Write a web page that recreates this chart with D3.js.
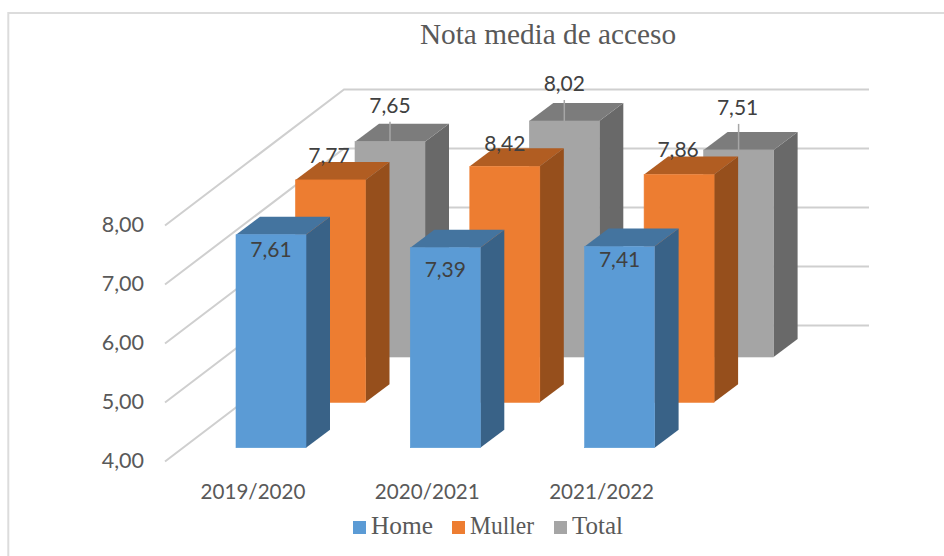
<!DOCTYPE html>
<html><head><meta charset="utf-8">
<style>html,body{margin:0;padding:0;background:#fff}svg{display:block}</style>
<script src="https://cdn.jsdelivr.net/npm/d3@7"></script></head>
<body><svg id="c" width="944" height="556"></svg>
<script>
const categories = ["2019/2020","2020/2021","2021/2022"];
const seriesNames = ["Home","Muller","Total"];
const home = [7.61,7.39,7.41];
const muller = [7.77,8.42,7.86];
const total = [7.65,8.02,7.51];
const yTicks = [4,5,6,7,8];
const title = "Nota media de acceso";
const fill = ["#5B9BD5","#ED7D31","#A5A5A5"];
const topFill = ["#44749F","#B15D22","#7C7C7C"];
const sideFill = ["#396287","#964F1C","#696969"];
// hand-placed data label offsets (from the top of the front face)
const labelDy = [[14,21,12],[-25,-24,-26],[-37,-39,-43]];
const labelDx = [[0,0,0],[-1.5,0,-1],[0,0,-1]];
const leaderTop = [-20,-21,-26];
const legendWidths = [62,64,51];

const values = [home,muller,total];
const fmt = v => d3.format(".2f")(v).replace(".",",");
const svg = d3.select("#c");
const sans = "Lato, Carlito, sans-serif", serif = "'Liberation Serif', serif";

// frame
svg.append("rect").attr("x",8.3).attr("y",13).attr("width",960).attr("height",600)
  .attr("fill","#fff").attr("stroke","#DCDCDC").attr("stroke-width",2);

const h = d3.scaleLinear().domain([4,8]).range([0,236]).clamp(true);
const x = d3.scalePoint().domain(categories).range([236,584.6]);
const sx = d3.scalePoint().domain(seriesNames).range([0,119]);
const sy = d3.scalePoint().domain(seriesNames).range([447.7,357]);
const barW = 70, dxD = 24, dyD = 18;

// walls gridlines
const wallFront = 165, wallBack = 344, wallDrop = 136, wallRight = 869, base = 325.5;
yTicks.forEach(t=>{
  const yb = base - h(t);
  svg.append("path").attr("fill","none").attr("stroke","#CFCFCF").attr("stroke-width",2)
    .attr("d",d3.line()([[wallFront,yb+wallDrop],[wallBack,yb],[wallRight,yb]]));
  svg.append("text").attr("x",144).attr("y",yb+wallDrop-1.5).attr("text-anchor","end")
    .attr("dominant-baseline","central").attr("font-family",sans).attr("font-size",21.5)
    .attr("fill","#595959").text(fmt(t));
});

// bars back to front
[2,1,0].forEach(s=>{
  categories.forEach((c,i)=>{
    const v = values[s][i], name = seriesNames[s];
    const l = x(c)+sx(name), r = l+barW, b = sy(name), t = b-h(v);
    const g = svg.append("g");
    g.append("path").attr("fill",sideFill[s])
      .attr("d",d3.line()([[r,t],[r+dxD,t-dyD],[r+dxD,b-dyD],[r,b]])+"Z");
    g.append("path").attr("fill",topFill[s])
      .attr("d",d3.line()([[l,t],[l+dxD,t-dyD],[r+dxD,t-dyD],[r,t]])+"Z");
    g.append("rect").attr("x",l).attr("y",t).attr("width",barW).attr("height",b-t).attr("fill",fill[s])
      .attr("stroke",fill[s]).attr("stroke-width",0.6);
  });
});

// data labels
[2,1,0].forEach(s=>{
  categories.forEach((c,i)=>{
    const v = values[s][i], name = seriesNames[s];
    const cx = x(c)+sx(name)+barW/2, t = sy(name)-h(v);
    if(s===2) svg.append("line").attr("x1",cx).attr("x2",cx).attr("y1",t).attr("y2",t+leaderTop[i])
      .attr("stroke","#A6A6A6").attr("stroke-width",1.5);
    svg.append("text").attr("x",cx+labelDx[s][i]).attr("y",t+labelDy[s][i]).attr("text-anchor","middle")
      .attr("dominant-baseline","central").attr("font-family",sans).attr("font-size",21)
      .attr("fill","#404040").text(fmt(v));
  });
});

// category labels
categories.forEach(c=>{
  svg.append("text").attr("x",x(c)+17).attr("y",491).attr("text-anchor","middle")
    .attr("dominant-baseline","central").attr("font-family",sans).attr("font-size",20.6)
    .attr("fill","#595959").text(c);
});

// title
svg.append("text").attr("x",548).attr("y",44).attr("text-anchor","middle")
  .attr("font-family",serif).attr("font-size",29.3).attr("fill","#595959").text(title);

// legend
const lx = d3.scaleOrdinal().domain(seriesNames).range([353,452,554]);
seriesNames.forEach((n,s)=>{
  svg.append("rect").attr("x",lx(n)).attr("y",521).attr("width",13).attr("height",13).attr("fill",fill[s]);
  svg.append("text").attr("x",lx(n)+18).attr("y",534).attr("font-family",serif).attr("font-size",24.5)
    .attr("textLength",legendWidths[s]).attr("lengthAdjust","spacingAndGlyphs")
    .attr("fill","#595959").text(n);
});
</script></body></html>
